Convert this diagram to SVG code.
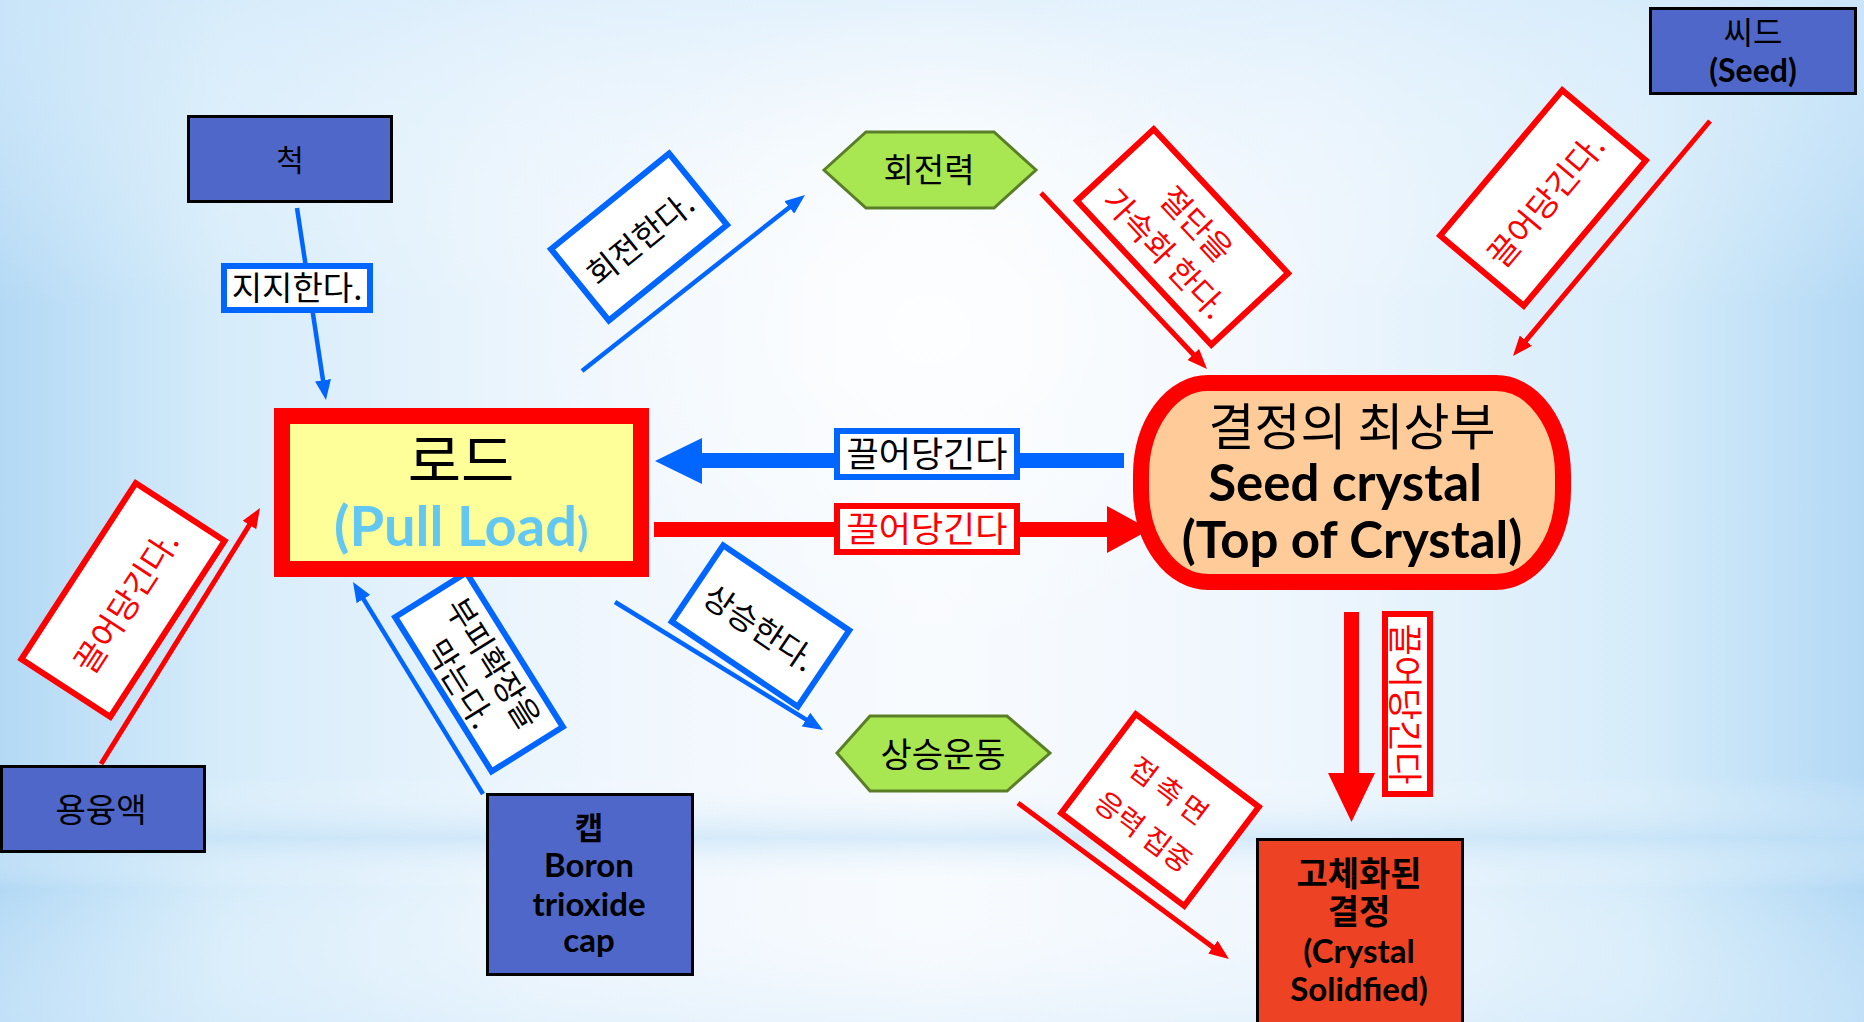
<svg xmlns="http://www.w3.org/2000/svg" width="1864" height="1022" viewBox="0 0 1864 1022">
<defs>
<linearGradient id="bgH" x1="0" y1="0" x2="1" y2="0">
<stop offset="0" stop-color="#B3D9F5"/>
<stop offset="0.12" stop-color="#D6ECFA"/>
<stop offset="0.3" stop-color="#EEF6FD"/>
<stop offset="0.5" stop-color="#F8FBFE"/>
<stop offset="0.7" stop-color="#EEF6FD"/>
<stop offset="0.88" stop-color="#D6ECFA"/>
<stop offset="1" stop-color="#B3D9F5"/>
</linearGradient>
<linearGradient id="bgV" x1="0" y1="0" x2="0" y2="1">
<stop offset="0" stop-color="#D8ECFB" stop-opacity="0.6"/>
<stop offset="0.3" stop-color="#FFFFFF" stop-opacity="0"/>
<stop offset="0.76" stop-color="#FFFFFF" stop-opacity="0"/>
<stop offset="0.82" stop-color="#BFDFF6" stop-opacity="0.55"/>
<stop offset="0.87" stop-color="#FFFFFF" stop-opacity="0"/>
<stop offset="1" stop-color="#D8ECFB" stop-opacity="0.4"/>
</linearGradient>
<radialGradient id="glow" cx="0.5" cy="0.5" r="0.5">
<stop offset="0" stop-color="#FFFFFF" stop-opacity="0.7"/>
<stop offset="1" stop-color="#FFFFFF" stop-opacity="0"/>
</radialGradient>
<marker id="ab" viewBox="0 0 20 16" refX="6" refY="8" markerWidth="20" markerHeight="16" markerUnits="userSpaceOnUse" orient="auto"><path d="M0,0 L20,8 L0,16 Z" fill="#0066FF"/></marker>
<marker id="ar" viewBox="0 0 20 16" refX="6" refY="8" markerWidth="20" markerHeight="16" markerUnits="userSpaceOnUse" orient="auto"><path d="M0,0 L20,8 L0,16 Z" fill="#FF0000"/></marker>
<style>
.ko{font-family:"Noto Sans CJK KR","Noto Sans",sans-serif;}
.en{font-family:Lato,"Liberation Sans",sans-serif;font-weight:700;}
.bl{stroke:#0066FF;stroke-width:4.5;fill:none;}
.rl{stroke:#FF0000;stroke-width:5;fill:none;}
.lb{fill:#FFFFFF;stroke:#0066FF;stroke-width:6;}
.lr{fill:#FFFFFF;stroke:#FF0000;stroke-width:6;}
.tb{fill:#000000;}
.tr{fill:#FF0000;}
.box{fill:#4F67C9;stroke:#000000;stroke-width:3;}
.hex{fill:#A8E752;stroke:#5A7E28;stroke-width:3;}
</style>
</defs>
<rect x="0" y="0" width="1864" height="1022" fill="url(#bgH)"/>
<rect x="0" y="0" width="1864" height="1022" fill="url(#bgV)"/>
<ellipse cx="930" cy="330" rx="400" ry="330" fill="url(#glow)"/>

<g id="connectors">
<line class="bl" x1="297" y1="208" x2="323.9" y2="386.2" marker-end="url(#ab)"/>
<line class="bl" x1="582" y1="371" x2="794" y2="203.7" marker-end="url(#ab)"/>
<line class="rl" x1="1041" y1="193" x2="1197.4" y2="358.8" marker-end="url(#ar)"/>
<line class="rl" x1="1710" y1="121" x2="1522" y2="345.3" marker-end="url(#ar)"/>
<line class="rl" x1="101" y1="764" x2="252.6" y2="519.9" marker-end="url(#ar)"/>
<line class="bl" x1="483" y1="794" x2="360.3" y2="593.9" marker-end="url(#ab)"/>
<line class="bl" x1="615" y1="602" x2="811.1" y2="722.7" marker-end="url(#ab)"/>
<line class="rl" x1="1018" y1="803" x2="1217.7" y2="950.7" marker-end="url(#ar)"/>
<polygon points="655,461 702,438 702,453 1124,453 1124,468 702,468 702,484" fill="#0066FF"/>
<polygon points="654,522 1107,522 1107,506 1150,529.5 1107,553 1107,537 654,537" fill="#FF0000"/>
<polygon points="1344,612 1359,612 1359,773 1375,773 1351.5,822 1328,773 1344,773" fill="#FF0000"/>

<g id="lbl-support">
<rect class="lb" x="224" y="266" width="146" height="44"/>
<text class="ko tb" x="297" y="300" font-size="33" text-anchor="middle">지지한다.</text>
</g>
<g id="lbl-rotate" transform="translate(639,237) rotate(-39)">
<rect class="lb" x="-76" y="-46" width="152" height="92"/>
<text class="ko tb" x="0" y="0" font-size="32" text-anchor="middle" dominant-baseline="central">회전한다.</text>
</g>
<g id="lbl-cut" transform="translate(1182.5,237) rotate(47)">
<rect class="lr" x="-98.5" y="-52.5" width="197" height="105"/>
<text class="ko tr" x="0" y="-21" font-size="32" text-anchor="middle" dominant-baseline="central">절단을</text>
<text class="ko tr" x="0" y="22" font-size="32" text-anchor="middle" dominant-baseline="central">가속화 한다.</text>
</g>
<g id="lbl-seedpull" transform="translate(1543,198) rotate(-50)">
<rect class="lr" x="-95" y="-54.5" width="190" height="109"/>
<text class="ko tr" x="0" y="2" font-size="33" text-anchor="middle" dominant-baseline="central">끌어당긴다.</text>
</g>
<g id="lbl-meltpull" transform="translate(123,600) rotate(-57)">
<rect class="lr" x="-105" y="-53" width="210" height="106"/>
<text class="ko tr" x="0" y="2" font-size="33" text-anchor="middle" dominant-baseline="central">끌어당긴다.</text>
</g>
<g id="lbl-cap" transform="translate(479,672) rotate(58)">
<rect class="lb" x="-91" y="-42" width="182" height="84"/>
<text class="ko tb" x="0" y="-19" font-size="32" text-anchor="middle" dominant-baseline="central">부피확장을</text>
<text class="ko tb" x="0" y="20" font-size="32" text-anchor="middle" dominant-baseline="central">막는다.</text>
</g>
<g id="lbl-rise" transform="translate(760.5,626) rotate(34)">
<rect class="lb" x="-76" y="-46" width="152" height="92"/>
<text class="ko tb" x="0" y="0" font-size="32" text-anchor="middle" dominant-baseline="central">상승한다.</text>
</g>
<g id="lbl-stress" transform="translate(1160,810) rotate(37)">
<rect class="lr" x="-77" y="-62" width="154" height="124"/>
<text class="ko tr" x="-2" y="-23" font-size="29" letter-spacing="5" text-anchor="middle" dominant-baseline="central">접촉면</text>
<text class="ko tr" x="0" y="25" font-size="29" text-anchor="middle" dominant-baseline="central">응력 집중</text>
</g>
<g id="lbl-pull-left">
<rect class="lb" x="837" y="431" width="180" height="46"/>
<text class="ko tb" x="927" y="467" font-size="35" text-anchor="middle">끌어당긴다</text>
</g>
<g id="lbl-pull-right">
<rect class="lr" x="837" y="506" width="180" height="46"/>
<text class="ko tr" x="927" y="542" font-size="35" text-anchor="middle">끌어당긴다</text>
</g>
<g id="lbl-pull-down">
<rect class="lr" x="1385" y="614" width="45" height="180"/>
<text class="ko tr" x="1407.5" y="704" font-size="35" text-anchor="middle" dominant-baseline="central" transform="rotate(90 1407.5 704)">끌어당긴다</text>
</g>
</g>

<g id="node-chuck">
<rect class="box" x="188.5" y="116.5" width="203" height="85"/>
<text class="ko tb" x="290" y="171" font-size="30" text-anchor="middle">척</text>
</g>
<g id="node-rod">
<rect x="282" y="416" width="359" height="153" fill="#FFFF99" stroke="#FF0000" stroke-width="16"/>
<text class="ko tb" x="461" y="482" font-size="58" text-anchor="middle">로드</text>
<text class="en" x="461" y="546" font-size="56" fill="#62C8F2" text-anchor="middle">(Pull Load<tspan font-size="40">)</tspan></text>
</g>
<g id="node-rotforce">
<polygon class="hex" points="824,170 866,132 994,132 1036,170 994,208 866,208"/>
<text class="ko tb" x="929" y="182" font-size="33" text-anchor="middle">회전력</text>
</g>
<g id="node-seed">
<rect class="box" x="1650.5" y="8.5" width="205" height="85"/>
<text class="ko tb" x="1753" y="44" font-size="32" text-anchor="middle">씨드</text>
<text class="en tb" x="1753" y="82" font-size="32" text-anchor="middle">(Seed)</text>
</g>
<g id="node-crystaltop">
<rect x="1141" y="383" width="422" height="199" rx="67" ry="92" fill="#FFCC99" stroke="#FF0000" stroke-width="16"/>
<text class="ko tb" x="1352" y="445" font-size="50" text-anchor="middle">결정의 최상부</text>
<text class="en tb" x="1345" y="501" font-size="51" text-anchor="middle">Seed crystal</text>
<text class="en tb" x="1352" y="558" font-size="51" text-anchor="middle">(Top of Crystal)</text>
</g>
<g id="node-melt">
<rect class="box" x="1.5" y="766.5" width="203" height="85"/>
<text class="ko tb" x="101" y="822" font-size="33" text-anchor="middle">용융액</text>
</g>
<g id="node-cap">
<rect class="box" x="487.5" y="794.5" width="205" height="180"/>
<text class="ko tb" x="589" y="839" font-size="31" font-weight="700" text-anchor="middle">캡</text>
<text class="en tb" x="589" y="877" font-size="33" text-anchor="middle">Boron</text>
<text class="en tb" x="589" y="916" font-size="33" text-anchor="middle">trioxide</text>
<text class="en tb" x="589" y="952" font-size="33" text-anchor="middle">cap</text>
</g>
<g id="node-rise">
<polygon class="hex" points="837,753 870,716 1007,716 1050,753 1007,791 870,791"/>
<text class="ko tb" x="943" y="767" font-size="34" text-anchor="middle">상승운동</text>
</g>
<g id="node-solid">
<rect x="1257.5" y="839.5" width="205" height="195" fill="#EE4224" stroke="#000000" stroke-width="3"/>
<text class="ko tb" x="1359" y="886" font-size="34" font-weight="700" text-anchor="middle">고체화된</text>
<text class="ko tb" x="1359" y="924" font-size="34" font-weight="700" text-anchor="middle">결정</text>
<text class="en tb" x="1359" y="963" font-size="33" text-anchor="middle">(Crystal</text>
<text class="en tb" x="1359" y="1001" font-size="33" text-anchor="middle">Solidfied)</text>
</g>
</svg>
